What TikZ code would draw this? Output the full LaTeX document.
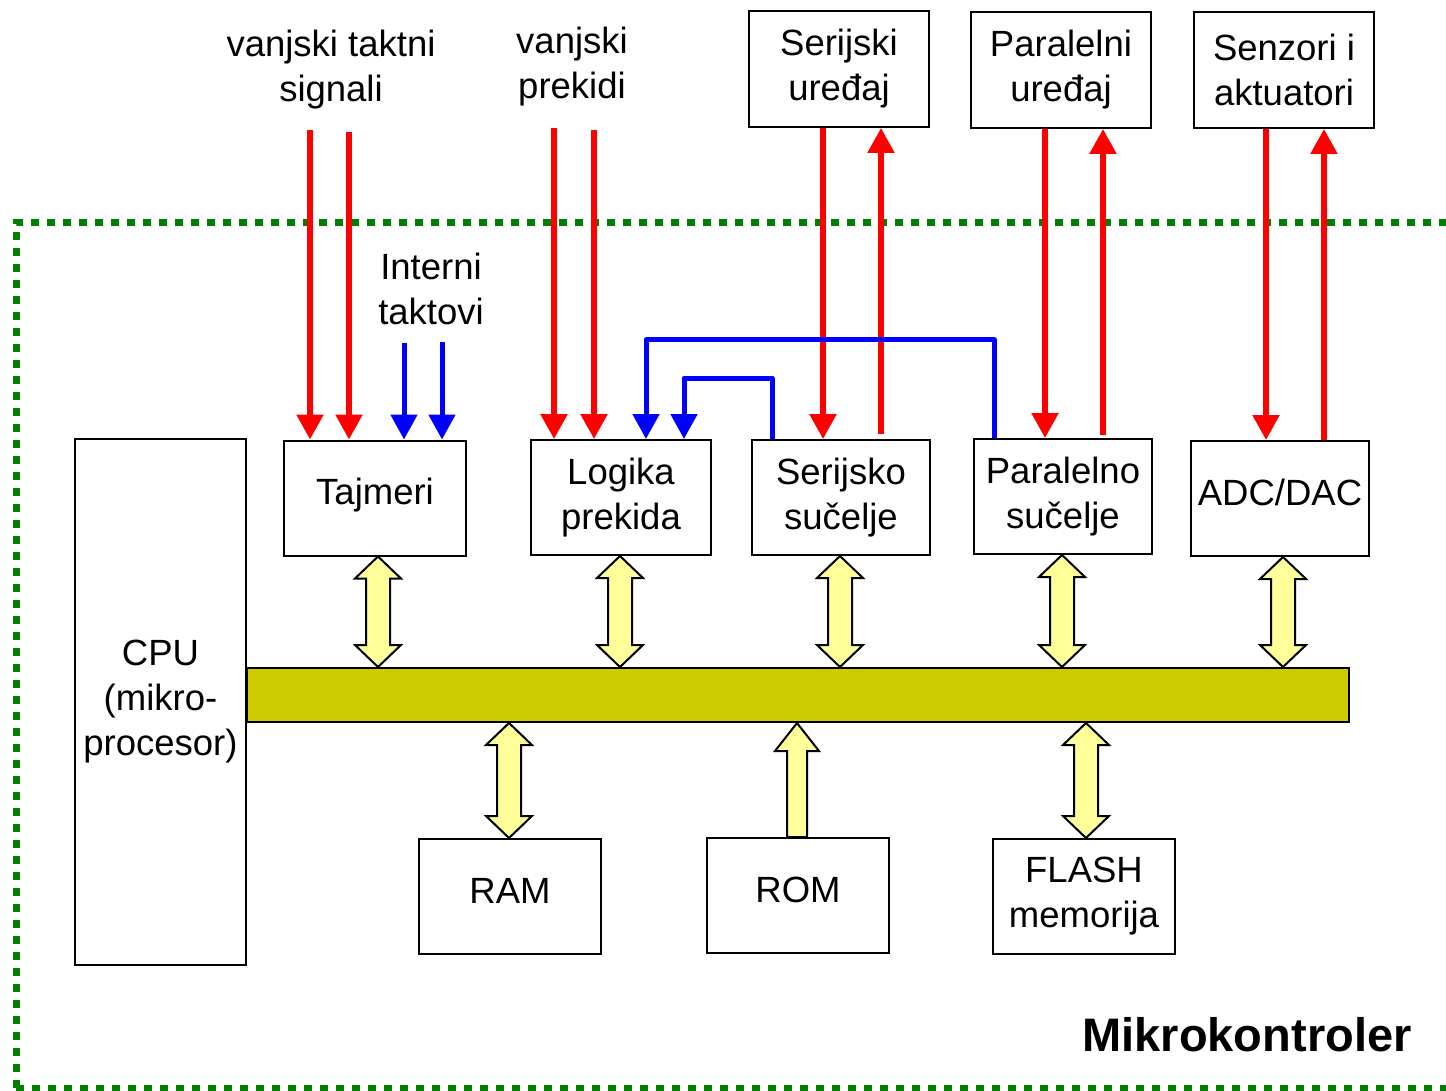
\documentclass[tikz,border=0pt]{standalone}
\usepackage{fontspec}
\setmainfont{Liberation Sans}
\usetikzlibrary{arrows.meta,calc}
\definecolor{busfill}{HTML}{CCCC00}
\definecolor{arrfill}{HTML}{FFFF99}
\definecolor{framegreen}{HTML}{008000}
\definecolor{sigred}{HTML}{FF0000}
\definecolor{sigblue}{HTML}{0000FF}

% double-headed bus arrow at x = #1 between anchor #2 (above) and anchor #3 (below)
\newcommand\dblarrow[3]{%
  \filldraw[yarrow] let \p1=(#2), \p2=(#3) in
    (#1pt,\y1) -- (#1pt+23pt,\y1-22pt) -- (#1pt+12pt,\y1-22pt)
    -- (#1pt+12pt,\y2+22pt) -- (#1pt+23pt,\y2+22pt) -- (#1pt,\y2)
    -- (#1pt-23pt,\y2+22pt) -- (#1pt-12pt,\y2+22pt)
    -- (#1pt-12pt,\y1-22pt) -- (#1pt-23pt,\y1-22pt) -- cycle;}
% single-headed arrow pointing up at x = #1, tip at #2, flat base at #3
\newcommand\uparrowbus[3]{%
  \filldraw[yarrow] let \p1=(#2), \p2=(#3) in
    (#1pt,\y1) -- (#1pt+22pt,\y1-28pt) -- (#1pt+10pt,\y1-28pt)
    -- (#1pt+10pt,\y2) -- (#1pt-10pt,\y2) -- (#1pt-10pt,\y1-28pt)
    -- (#1pt-22pt,\y1-28pt) -- cycle;}

\begin{document}
\begin{tikzpicture}[x=1pt,y=-1pt,
  every node/.style={font=\fontsize{36.5}{45}\selectfont, inner sep=0pt},
  box/.style={draw, line width=2pt, fill=white, align=center},
  unit/.style={box, minimum width=180pt, minimum height=115pt},
  oneline/.style={text height=27pt, text depth=14pt},
  label/.style={align=center},
  bus/.style={draw, line width=2pt, fill=busfill, minimum width=1102pt, minimum height=54pt},
  yarrow/.style={draw=black, line width=2pt, fill=arrfill, line join=miter},
  redarr/.style={draw=sigred, line width=5.5pt, -{Triangle[width=26pt,length=25pt]}},
  bluearr/.style={draw=sigblue, line width=5pt, line join=round, -{Triangle[width=26pt,length=25pt]}},
  frame/.style={draw=framegreen, line width=7pt, dash pattern=on 8pt off 8pt}]

\useasboundingbox (0,0) rectangle (1446,1091);

% microcontroller boundary
\draw[frame] (16,1088) -- (16,223) -- (1470,223);
\draw[frame] (16,1088) -- (1470,1088);
\node[font=\fontsize{47}{50}\selectfont\bfseries] (mk) at (1247,1035) {Mikrokontroler};

% blocks
\node[box, minimum width=171pt, minimum height=526pt] (cpu) at (160.5,702) {CPU\\(mikro-\\procesor)};
\node[unit, oneline, minimum width=182pt] (taj) at (375,498) {Tajmeri};
\node[unit] (log) at (621,497.5) {Logika\\prekida};
\node[unit, minimum width=178pt] (ser) at (841,497.5) {Serijsko\\sučelje};
\node[unit, minimum width=178pt] (par) at (1063,496.5) {Paralelno\\sučelje};
\node[unit, oneline, minimum width=178pt] (adc) at (1280,498.5) {ADC/DAC};
\node[bus] (bus) at (798,695) {};
\node[unit, oneline, minimum width=182pt] (ram) at (510,896.5) {RAM};
\node[unit, oneline, minimum width=182pt] (rom) at (798,895.5) {ROM};
\node[unit, minimum width=182pt] (flash) at (1084,896.5) {FLASH\\memorija};

% external devices
\node[unit, minimum height=116pt] (seru) at (839,69) {Serijski\\uređaj};
\node[unit, minimum height=116pt] (paru) at (1061,70) {Paralelni\\uređaj};
\node[unit, minimum height=116pt] (senz) at (1284,70) {Senzori i\\aktuatori};

% signal labels
\node[label] (clklbl) at (331,70) {vanjski taktni\\signali};
\node[label] (irqlbl) at (572,67) {vanjski\\prekidi};
\node[label] (intlbl) at (431,289) {Interni\\taktovi};

% external clocks and interrupts
\coordinate (t1) at (310,130);
\coordinate (t2) at (349,132);
\coordinate (b1) at (404,343);
\coordinate (b2) at (442,342);
\coordinate (p1) at (554,128);
\coordinate (p2) at (594,130);
\draw[redarr] (t1) -- (t1 |- taj.north);
\draw[redarr] (t2) -- (t2 |- taj.north);
\draw[bluearr] (b1) -- (b1 |- taj.north);
\draw[bluearr] (b2) -- (b2 |- taj.north);
\draw[redarr] (p1) -- (p1 |- log.north);
\draw[redarr] (p2) -- (p2 |- log.north);

% device links
\coordinate (su1) at ([xshift=-16pt]seru.south);
\coordinate (su2) at ([xshift=42pt]seru.south);
\coordinate (pu1) at ([xshift=-16pt]paru.south);
\coordinate (pu2) at ([xshift=42pt]paru.south);
\coordinate (sz1) at ([xshift=-18pt]senz.south);
\coordinate (sz2) at ([xshift=40pt]senz.south);
\draw[redarr] (su1) -- (su1 |- ser.north);
\draw[redarr, shorten <=5pt] (su2 |- ser.north) -- (su2);
\draw[redarr] (pu1) -- (pu1 |- par.north);
\draw[redarr, shorten <=3pt] (pu2 |- par.north) -- (pu2);
\draw[redarr] (sz1) -- (sz1 |- adc.north);
\draw[redarr] (sz2 |- adc.north) -- (sz2);

% interrupt requests from the interfaces
\coordinate (pb) at ([xshift=21pt]par.north west);
\coordinate (sb) at ([xshift=21pt]ser.north west);
\coordinate (lg1) at ([xshift=116pt]log.north west);
\coordinate (lg2) at ([xshift=154pt]log.north west);
\coordinate (hi1) at (0,340);
\coordinate (hi2) at (0,378);
\draw[bluearr] (pb) -- (pb |- hi1) -| (lg1);
\draw[bluearr] (sb) -- (sb |- hi2) -| (lg2);

% bus connections
\dblarrow{378}{taj.south}{bus.north}
\dblarrow{620}{log.south}{bus.north}
\dblarrow{840}{ser.south}{bus.north}
\dblarrow{1062}{par.south}{bus.north}
\dblarrow{1283}{adc.south}{bus.north}
\dblarrow{509}{bus.south}{ram.north}
\dblarrow{1086}{bus.south}{flash.north}
\uparrowbus{797}{bus.south}{rom.north}
\end{tikzpicture}
\end{document}
